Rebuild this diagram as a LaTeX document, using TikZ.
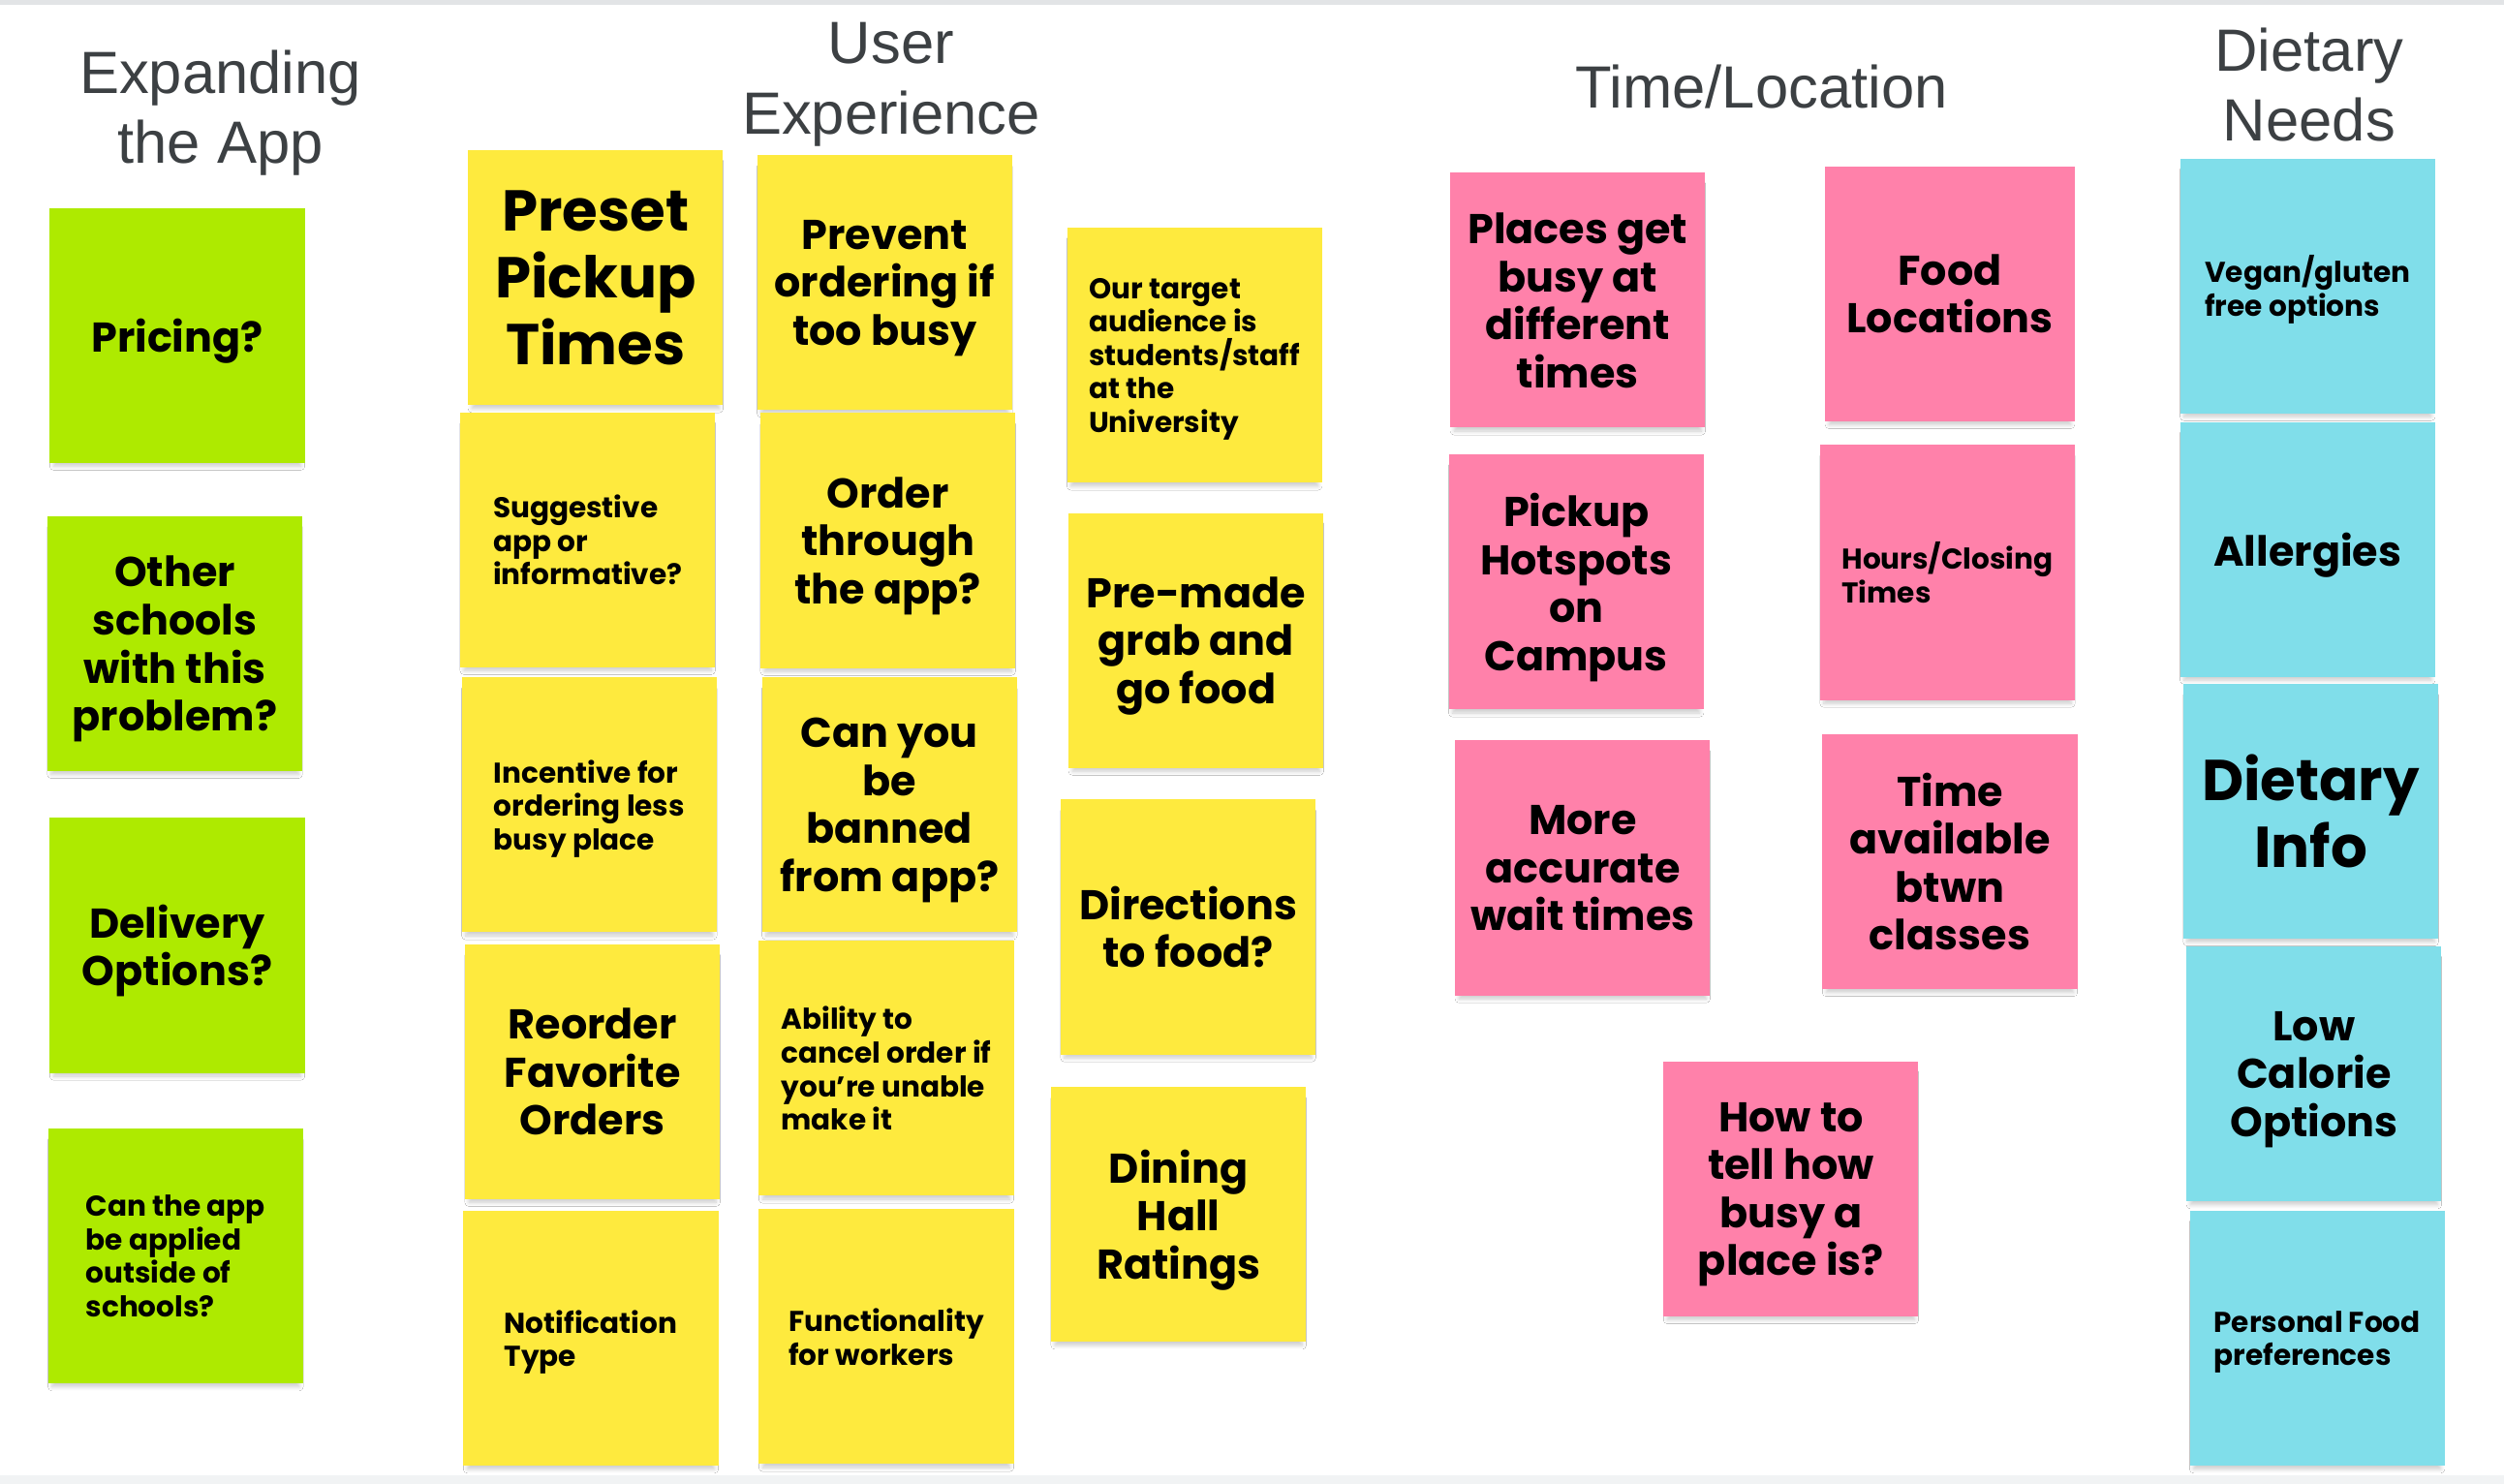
\documentclass[tikz,border=0pt]{standalone}
\usepackage{fontspec}
\setmainfont{Poppins}
\newfontfamily\headfont{Liberation Sans}
\usetikzlibrary{shadows.blur}
\definecolor{nGreen}{RGB}{174,234,0}
\definecolor{nYellow}{RGB}{254,234,62}
\definecolor{nPink}{RGB}{255,129,170}
\definecolor{nCyan}{RGB}{128,222,234}
\definecolor{headGray}{RGB}{60,64,67}
\definecolor{edgeGray}{RGB}{226,228,230}
\definecolor{footGray}{RGB}{241,243,244}
\newcommand{\NoteBig}{\bfseries\fontsize{16.9}{19.7}\selectfont}
\newcommand{\NoteMed}{\bfseries\fontsize{12.2}{14.1}\selectfont}
\newcommand{\NoteSm}{\bfseries\fontsize{8.4}{9.85}\selectfont}
\newcommand{\HeadTxt}{\headfont\fontsize{17.5}{20.6}\selectfont}
\tikzset{
  notebox/.style={rectangle, minimum width=2.63cm, minimum height=2.63cm, inner sep=0pt,
    text=black, text depth=0pt,
    blur shadow={shadow xshift=0pt, shadow yshift=-2.2pt, shadow scale=0.97, shadow blur steps=6, shadow blur radius=1.2pt, shadow opacity=20}},
  bignote/.style={notebox, align=center, font=\NoteBig},
  mednote/.style={notebox, align=center, font=\NoteMed},
  smnote/.style={notebox, align=left, font=\NoteSm},
  grn/.style={fill=nGreen},
  yel/.style={fill=nYellow},
  pnk/.style={fill=nPink},
  cyn/.style={fill=nCyan},
  header/.style={align=center, text=headGray, font=\HeadTxt, inner sep=0pt, text depth=0pt}
}
\begin{document}
\begin{tikzpicture}[x=0.016486cm, y=-0.016486cm]
\useasboundingbox (0,0) rectangle (1568,929);
\fill[white] (0,0) rectangle (1568,929);
\fill[edgeGray] (0,0) rectangle (1568,3);
\fill[footGray] (0,924) rectangle (1568,929);

% headers
\node[header] (h1) at (138,67) {Expanding\\the App};
\node[header] (h2) at (558,49) {User\\Experience};
\node[header] (h3) at (1103,54) {Time/Location};
\node[header] (h4) at (1446,53) {Dietary\\Needs};

% Expanding the App
\node[mednote, grn] (pricing) at (111,210) {Pricing?};
\node[mednote, grn] (other) at (109.5,403) {Other\\schools\\with this\\problem?};
\node[mednote, grn] (delivery) at (111,592) {Delivery\\Options?};
\node[smnote, grn] (canapp) at (110,786.5) {Can the app\\be applied\\outside of\\schools?};

% User Experience column 1
\node[bignote, yel] (preset) at (373,174) {Preset\\Pickup\\Times};
\node[smnote, yel] (suggest) at (368,338) {Suggestive\\app or\\informative?};
\node[smnote, yel] (incentive) at (369,504) {Incentive for\\ordering less\\busy place};
\node[mednote, yel] (reorder) at (371,671) {Reorder\\Favorite\\Orders};
\node[smnote, yel] (notif) at (370,838) {Notification\\Type};

% User Experience column 2
\node[mednote, yel] (prevent) at (554,177) {Prevent\\ordering if\\too busy};
\node[mednote, yel] (orderthru) at (556,338.5) {Order\\through\\the app?};
\node[mednote, yel] (banned) at (557,504) {Can you\\be\\banned\\from app?};
\node[smnote, yel] (cancel) at (555,669) {Ability to\\cancel order if\\you{\char"0027}re unable\\make it};
\node[smnote, yel] (workers) at (555,837) {Functionality\\for workers};

% User Experience column 3
\node[smnote, yel] (target) at (748,222.5) {Our target\\audience is\\students/staff\\at the\\University};
\node[mednote, yel] (premade) at (749,401) {Pre-made\\grab and\\go food};
\node[mednote, yel] (directions) at (744,580.5) {Directions\\to food?};
\node[mednote, yel] (dining) at (738,760.5) {Dining\\Hall\\Ratings};

% Time/Location
\node[mednote, pnk] (places) at (988,188) {Places get\\busy at\\different\\times};
\node[mednote, pnk, minimum width=2.57cm] (foodloc) at (1221,184) {Food\\Locations};
\node[mednote, pnk] (hotspots) at (987,364.5) {Pickup\\Hotspots\\on\\Campus};
\node[smnote, pnk] (hours) at (1219.5,358.5) {Hours/Closing\\Times};
\node[mednote, pnk] (accurate) at (991,543.5) {More\\accurate\\wait times};
\node[mednote, pnk] (timeavail) at (1221,539.5) {Time\\available\\btwn\\classes};
\node[mednote, pnk] (howbusy) at (1121.5,744.5) {How to\\tell how\\busy a\\place is?};

% Dietary Needs
\node[smnote, cyn] (vegan) at (1445,179) {Vegan/gluten\\free options};
\node[mednote, cyn] (allergies) at (1445,344) {Allergies};
\node[bignote, cyn] (dietinfo) at (1447,508) {Dietary\\Info};
\node[mednote, cyn] (lowcal) at (1449,672.5) {Low\\Calorie\\Options};
\node[smnote, cyn] (personal) at (1451,838) {Personal Food\\preferences};
\end{tikzpicture}
\end{document}
